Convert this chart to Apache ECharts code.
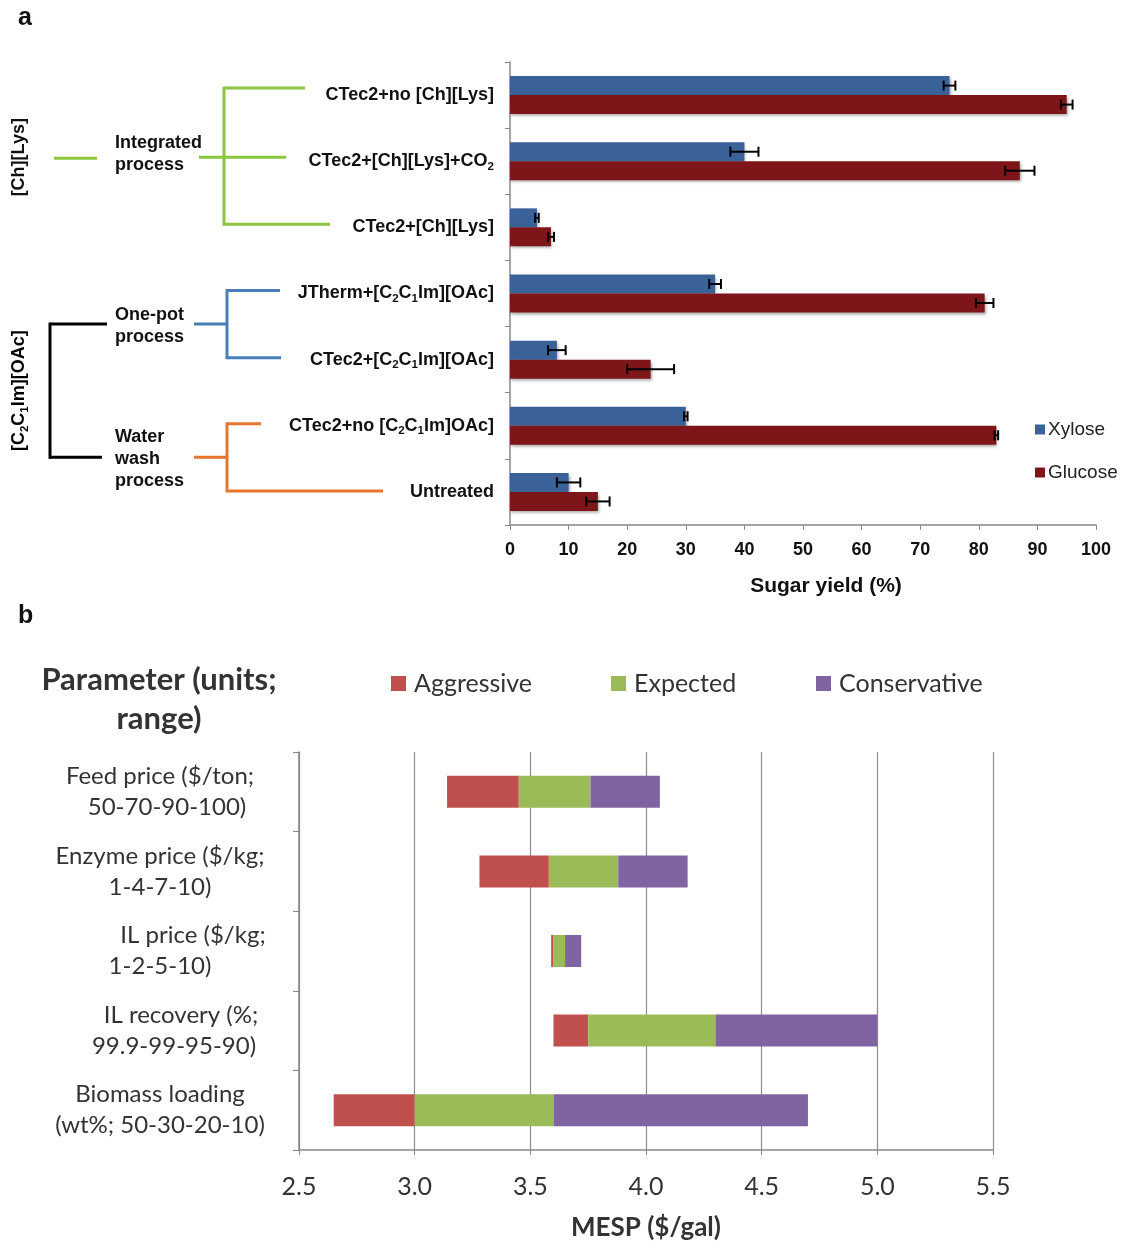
<!DOCTYPE html>
<html><head><meta charset="utf-8">
<script src="https://cdn.jsdelivr.net/npm/echarts@6/dist/echarts.min.js"></script>
<style>html,body{margin:0;padding:0;background:#fff}#c{width:1121px;height:1242px}</style>
</head><body><div id="c"></div>
<script>
// ---------- Panel a data ----------
const treatments = ['CTec2+no [Ch][Lys]', 'CTec2+[Ch][Lys]+CO2', 'CTec2+[Ch][Lys]',
  'JTherm+[C2C1Im][OAc]', 'CTec2+[C2C1Im][OAc]', 'CTec2+no [C2C1Im]OAc]', 'Untreated'];
const xyloseYield = [75, 40, 4.6, 35, 8, 30, 10];
const xyloseErr   = [1, 2.4, 0.3, 1, 1.5, 0.3, 2];
const glucoseYield = [95, 87, 7, 81, 24, 83, 15];
const glucoseErr   = [1, 2.5, 0.5, 1.5, 4, 0.3, 2];
const sugarNames = ['Xylose', 'Glucose'];

// ---------- Panel b data ----------
const parameters = ['Feed price ($/ton;\n50-70-90-100)', 'Enzyme price ($/kg;\n1-4-7-10)',
  'IL price ($/kg;\n1-2-5-10)', 'IL recovery (%;\n99.9-99-95-90)', 'Biomass loading\n(wt%; 50-30-20-10)'];
const rangeLow        = [3.14, 3.28, 3.59, 3.60, 2.65];
const aggressiveEnd   = [3.45, 3.58, 3.60, 3.75, 3.00];
const expectedEnd     = [3.76, 3.88, 3.65, 4.30, 3.60];
const conservativeEnd = [4.06, 4.18, 3.72, 5.00, 4.70];
const scenarioNames = ['Aggressive', 'Expected', 'Conservative'];

// ---------- styles ----------
const AR = 'Liberation Sans, Arial, sans-serif';
const CAL = 'Lato, Open Sans, sans-serif';
const axisGray = '#888888';
const cXyl = '#3a6298', cGlu = '#7e1518';
const cAgg = '#c0504d', cExp = '#9bbb59', cCon = '#8064a2';
const BARW = 19;

function richName(s) {
  return '{n|' + s.replace(/C2C1Im/g, 'C}{s|2}{n|C}{s|1}{n|Im').replace(/CO2$/, 'CO}{s|2}{n|') + '}';
}
const subRich = {
  n: {fontFamily: AR, fontWeight: 'bold', fontSize: 18, color: '#111', lineHeight: 23},
  s: {fontFamily: AR, fontWeight: 'bold', fontSize: 11.5, color: '#111', lineHeight: 12, verticalAlign: 'bottom'}
};
// per-line horizontal nudges of the panel-b labels (style only)
const lineShift = [[0, 14], [0, 0], [66, 0], [42, 28], [0, 0]];
const bRich = {};
[0, 14, 28, 42, 66].forEach(p => {
  bRich['p' + p] = {fontFamily: CAL, fontSize: 24, color: '#333', lineHeight: 31, align: 'center', padding: [0, 0, 0, p]};
});

function errRender(offset) {
  return function (params, api) {
    const cat = api.value(0), v = api.value(1), e = api.value(2);
    const c = api.coord([v, cat]);
    const l = api.coord([v - e, cat]);
    const r = api.coord([v + e, cat]);
    const y = c[1] + offset, cap = 5;
    const st = {stroke: '#000', lineWidth: 2};
    return {type: 'group', children: [
      {type: 'line', shape: {x1: l[0], y1: y, x2: r[0], y2: y}, style: st},
      {type: 'line', shape: {x1: l[0], y1: y - cap, x2: l[0], y2: y + cap}, style: st},
      {type: 'line', shape: {x1: r[0], y1: y - cap, x2: r[0], y2: y + cap}, style: st}
    ]};
  };
}

const chart = echarts.init(document.getElementById('c'));
const barShadow = {shadowBlur: 3, shadowColor: 'rgba(0,0,0,0.35)', shadowOffsetX: 1, shadowOffsetY: 2};
const bLegendText = {fontFamily: CAL, fontSize: 25, color: '#333', padding: [0, 0, 0, 3]};

const option = {
  animation: false,
  backgroundColor: '#fff',
  grid: [
    {left: 510, right: 25, top: 62, bottom: 717},
    {left: 299, right: 128, top: 752, bottom: 90}
  ],
  xAxis: [
    {gridIndex: 0, type: 'value', min: 0, max: 100, interval: 10,
      axisLine: {show: true, lineStyle: {color: axisGray, width: 1.5}},
      axisTick: {show: true, length: 5, lineStyle: {color: axisGray}},
      splitLine: {show: false},
      axisLabel: {margin: 16, fontFamily: AR, fontWeight: 'bold', fontSize: 18, color: '#111'},
      name: 'Sugar yield (%)', nameLocation: 'middle', nameGap: 51,
      nameTextStyle: {fontFamily: AR, fontWeight: 'bold', fontSize: 21, color: '#111', padding: [0, 0, 0, 46]}},
    {gridIndex: 1, type: 'value', min: 2.5, max: 5.5, interval: 0.5,
      axisLine: {show: true, lineStyle: {color: axisGray, width: 1.5}},
      axisTick: {show: true, length: 5, lineStyle: {color: axisGray}},
      splitLine: {show: true, lineStyle: {color: '#8c8c8c', width: 1.2}},
      axisLabel: {margin: 24, fontFamily: CAL, fontSize: 25, color: '#333', formatter: v => v.toFixed(1)},
      name: 'MESP ($/gal)', nameLocation: 'middle', nameGap: 65,
      nameTextStyle: {fontFamily: CAL, fontWeight: 'bold', fontSize: 26, color: '#333'}}
  ],
  yAxis: [
    {gridIndex: 0, type: 'category', inverse: true, data: treatments,
      axisLine: {show: true, lineStyle: {color: axisGray, width: 1.5}},
      axisTick: {show: true, length: 5, lineStyle: {color: axisGray}},
      axisLabel: {margin: 16, formatter: v => richName(v), rich: subRich}},
    {gridIndex: 1, type: 'category', inverse: true, data: parameters,
      axisLine: {show: true, lineStyle: {color: axisGray, width: 1.5}},
      axisTick: {show: true, length: 6, lineStyle: {color: axisGray}},
      axisLabel: {margin: 139, align: 'center',
        formatter: (v, i) => v.split('\n').map((t, k) => '{p' + lineShift[i][k] + '|' + t + '}').join('\n'),
        rich: bRich}}
  ],
  legend: [
    {data: sugarNames, orient: 'vertical', left: 1035, top: 420, padding: 0, icon: 'rect', itemWidth: 10, itemHeight: 10,
      itemGap: 24, textStyle: {fontFamily: AR, fontSize: 19, color: '#222', padding: [0, 0, 0, -2]}},
    {data: [scenarioNames[0]], left: 391, top: 671, padding: 0, icon: 'rect', itemWidth: 15, itemHeight: 15, textStyle: bLegendText},
    {data: [scenarioNames[1]], left: 611, top: 671, padding: 0, icon: 'rect', itemWidth: 15, itemHeight: 15, textStyle: bLegendText},
    {data: [scenarioNames[2]], left: 816, top: 671, padding: 0, icon: 'rect', itemWidth: 15, itemHeight: 15, textStyle: bLegendText}
  ],
  series: [
    {name: 'Xylose', type: 'bar', xAxisIndex: 0, yAxisIndex: 0, data: xyloseYield,
      barWidth: BARW, barGap: '0%', itemStyle: Object.assign({color: cXyl}, barShadow)},
    {name: 'Glucose', type: 'bar', xAxisIndex: 0, yAxisIndex: 0, data: glucoseYield,
      barWidth: BARW, barGap: '0%', itemStyle: Object.assign({color: cGlu}, barShadow)},
    {name: 'XyloseErr', type: 'custom', xAxisIndex: 0, yAxisIndex: 0, z: 5,
      renderItem: errRender(-BARW / 2), encode: {x: 1, y: 0},
      data: treatments.map((t, i) => [i, xyloseYield[i], xyloseErr[i]])},
    {name: 'GlucoseErr', type: 'custom', xAxisIndex: 0, yAxisIndex: 0, z: 5,
      renderItem: errRender(BARW / 2), encode: {x: 1, y: 0},
      data: treatments.map((t, i) => [i, glucoseYield[i], glucoseErr[i]])},
    {name: 'base', type: 'bar', stack: 'mesp', xAxisIndex: 1, yAxisIndex: 1, barWidth: 32,
      itemStyle: {color: 'rgba(0,0,0,0)'}, data: rangeLow, silent: true},
    {name: 'Aggressive', type: 'bar', stack: 'mesp', xAxisIndex: 1, yAxisIndex: 1, barWidth: 32,
      itemStyle: {color: cAgg}, data: rangeLow.map((v, i) => aggressiveEnd[i] - v)},
    {name: 'Expected', type: 'bar', stack: 'mesp', xAxisIndex: 1, yAxisIndex: 1, barWidth: 32,
      itemStyle: {color: cExp}, data: aggressiveEnd.map((v, i) => expectedEnd[i] - v)},
    {name: 'Conservative', type: 'bar', stack: 'mesp', xAxisIndex: 1, yAxisIndex: 1, barWidth: 32,
      itemStyle: {color: cCon}, data: expectedEnd.map((v, i) => conservativeEnd[i] - v)}
  ]
};
chart.setOption(option);

// ---------- Tree annotation for panel a, anchored to the category axis ----------
const cy = treatments.map(t => chart.convertToPixel({yAxisIndex: 0}, t));
const G = '#8cc63f', B = '#4a7ebb', O = '#e8762d', K = '#000';
function hl(x1, x2, y, c) { return {type: 'line', silent: true, shape: {x1: x1, y1: y, x2: x2, y2: y}, style: {stroke: c, lineWidth: 3}}; }
function vl(x, y1, y2, c) { return {type: 'line', silent: true, shape: {x1: x, y1: y1 - 1.5, x2: x, y2: y2 + 1.5}, style: {stroke: c, lineWidth: 3}}; }
function tx(x, y, text) {
  return {type: 'text', silent: true, x: x, y: y,
    style: {text: text, fontFamily: AR, fontWeight: 'bold', fontSize: 18, fill: '#111',
      lineHeight: 22, align: 'left', verticalAlign: 'middle'}};
}
const g0 = cy[0] - 7, g1 = cy[1] - 4, g2 = cy[2] - 3;
const b0 = cy[3] - 3, b1 = cy[4] - 2, bm = (b0 + b1) / 2;
const o0 = cy[5] - 2, o1 = cy[6] - 1, om = (o0 + o1) / 2;
const graphics = [
  vl(224, g0, g2, G), hl(224, 305, g0, G), hl(199, 286, g1, G), hl(224, 330, g2, G), hl(54, 97, g1 + 1, G),
  vl(227, b0, b1, B), hl(227, 280, b0, B), hl(227, 281, b1, B), hl(194, 227, bm, B),
  vl(227, o0, o1, O), hl(227, 261, o0, O), hl(227, 383, o1, O), hl(194, 227, om, O),
  vl(50, bm, om, K), hl(50, 107, bm, K), hl(50, 102, om, K),
  tx(115, g1 - 3, 'Integrated\nprocess'),
  tx(115, bm + 2, 'One-pot\nprocess'),
  tx(115, om + 2, 'Water\nwash\nprocess'),
  {type: 'text', silent: true, x: 19, y: g1, rotation: Math.PI / 2,
    style: {text: '[Ch][Lys]', fontFamily: AR, fontWeight: 'bold', fontSize: 18, fill: '#111', align: 'center', verticalAlign: 'middle'}},
  {type: 'text', silent: true, x: 19, y: (bm + om) / 2, rotation: Math.PI / 2,
    style: {text: richName('[C2C1Im][OAc]'), rich: subRich, align: 'center', verticalAlign: 'middle'}},
  {type: 'text', silent: true, x: 18, y: 6, style: {text: 'a', fontFamily: AR, fontWeight: 'bold', fontSize: 25, fill: '#111'}},
  {type: 'text', silent: true, x: 18, y: 604, style: {text: 'b', fontFamily: AR, fontWeight: 'bold', fontSize: 25, fill: '#111'}},
  {type: 'text', silent: true, x: 159, y: 699,
    style: {text: 'Parameter (units;\nrange)', fontFamily: CAL, fontWeight: 'bold', fontSize: 31, fill: '#333',
      lineHeight: 39, align: 'center', verticalAlign: 'middle'}}
];
chart.setOption({graphic: graphics});
</script>
</body></html>
